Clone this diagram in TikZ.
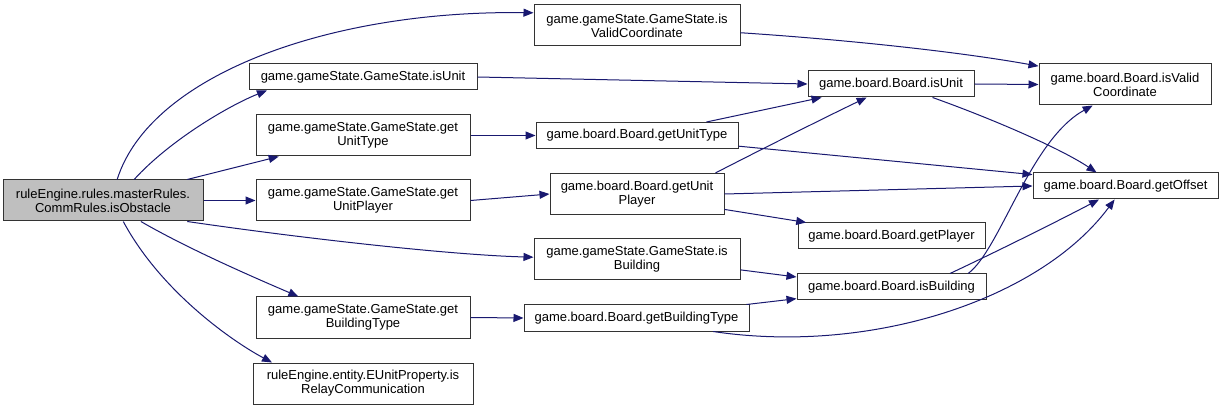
\documentclass[tikz,border=0pt]{standalone}
\usepackage{fontspec}
\setmainfont{Liberation Sans}
\usetikzlibrary{arrows.meta}
\definecolor{edgeblue}{RGB}{25,25,112}
\definecolor{nodegray}{RGB}{191,191,191}
\begin{document}
\begin{tikzpicture}[x=0.75pt,y=-0.75pt,
  fn/.style={draw=black!80, line width=0.75pt, fill=white, inner sep=0pt, align=center,
    font=\fontsize{9.75pt}{10.5pt}\selectfont},
  cur/.style={fn, fill=nodegray},
  two/.style={minimum height=30.75pt},
  one/.style={minimum height=19.5pt},
  call/.style={draw=edgeblue, line width=0.75pt, -{Triangle[length=7.5pt,width=6pt]}}]
\fill[white] (0,0) rectangle (1223,409);
\useasboundingbox (0,0) rectangle (1223,409);

\node[cur, two, minimum width=150pt] (rule) at (103,200.5) {ruleEngine.rules.masterRules.\\CommRules.isObstacle};
\node[fn, two, minimum width=154.5pt] (gsvc) at (637,25.5) {game.gameState.GameState.is\\ValidCoordinate};
\node[fn, one, minimum width=171pt] (gsiu) at (363,77) {game.gameState.GameState.isUnit};
\node[fn, two, minimum width=160.5pt] (gsut) at (363,135.5) {game.gameState.GameState.get\\UnitType};
\node[fn, two, minimum width=160.5pt] (gsup) at (363,200.5) {game.gameState.GameState.get\\UnitPlayer};
\node[fn, two, minimum width=154.5pt] (gsib) at (637,259) {game.gameState.GameState.is\\Building};
\node[fn, two, minimum width=160.5pt] (gsbt) at (363,317.5) {game.gameState.GameState.get\\BuildingType};
\node[fn, two, minimum width=165pt] (eup) at (363,383.5) {ruleEngine.entity.EUnitProperty.is\\RelayCommunication};
\node[fn, one, minimum width=124.5pt] (biu) at (891,84) {game.board.Board.isUnit};
\node[fn, two, minimum width=129pt] (bvc) at (1125,84.5) {game.board.Board.isValid\\Coordinate};
\node[fn, one, minimum width=151.5pt] (but) at (637,135.5) {game.board.Board.getUnitType};
\node[fn, two, minimum width=130.5pt] (bup) at (637,194) {game.board.Board.getUnit\\Player};
\node[fn, one, minimum width=138.75pt] (bgo) at (1125.5,186) {game.board.Board.getOffset};
\node[fn, one, minimum width=140.25pt] (bgp) at (891.5,236) {game.board.Board.getPlayer};
\node[fn, one, minimum width=141.75pt] (bib) at (891.5,287) {game.board.Board.isBuilding};
\node[fn, one, minimum width=168.75pt] (bbt) at (636.5,318) {game.board.Board.getBuildingType};

\draw[call] (rule.56) .. controls (150,75) and (330,10) .. (gsvc.173);
\draw[call] (rule.34) .. controls (170,140) and (230,105) .. (gsiu.188);
\draw[call] (rule.14.5) -- (gsut.194);
\draw[call] (rule.east) -- (gsup.west);
\draw[call] (rule.-14) .. controls (300,238) and (450,255) .. (gsib.179);
\draw[call] (rule.-29) .. controls (190,250) and (260,280) .. (gsbt.162);
\draw[call] (rule.-46) .. controls (160,290) and (230,340) .. (eup.167);
\draw[call] (gsvc.-4) .. controls (850,40) and (960,52) .. (bvc.168);
\draw[call] (gsiu.east) -- (biu.west);
\draw[call] (gsut.east) -- (but.west);
\draw[call] (but.11) -- (biu.191);
\draw[call] (but.-6) -- (bgo.173);
\draw[call] (gsup.east) -- (bup.west);
\draw[call] (bup.15) .. controls (760,150) and (830,115) .. (biu.209);
\draw[call] (bup.east) -- (bgo.west);
\draw[call] (bup.-10) -- (bgp.171);
\draw[call] (biu.east) -- (bvc.west);
\draw[call] (biu.-18) .. controls (990,118) and (1060,148) .. (bgo.155);
\draw[call] (gsib.-6) -- (bib.174);
\draw[call] (gsbt.east) -- (bbt.west);
\draw[call] (bbt.7) -- (bib.187);
\draw[call] (bbt.-10) .. controls (870,355) and (1040,300) .. (bgo.231);
\draw[call] (bib.10) .. controls (1000,250) and (1030,140) .. (bvc.213);
\draw[call] (bib.13) .. controls (1000,250) and (1060,220) .. (bgo.207);
\end{tikzpicture}
\end{document}
